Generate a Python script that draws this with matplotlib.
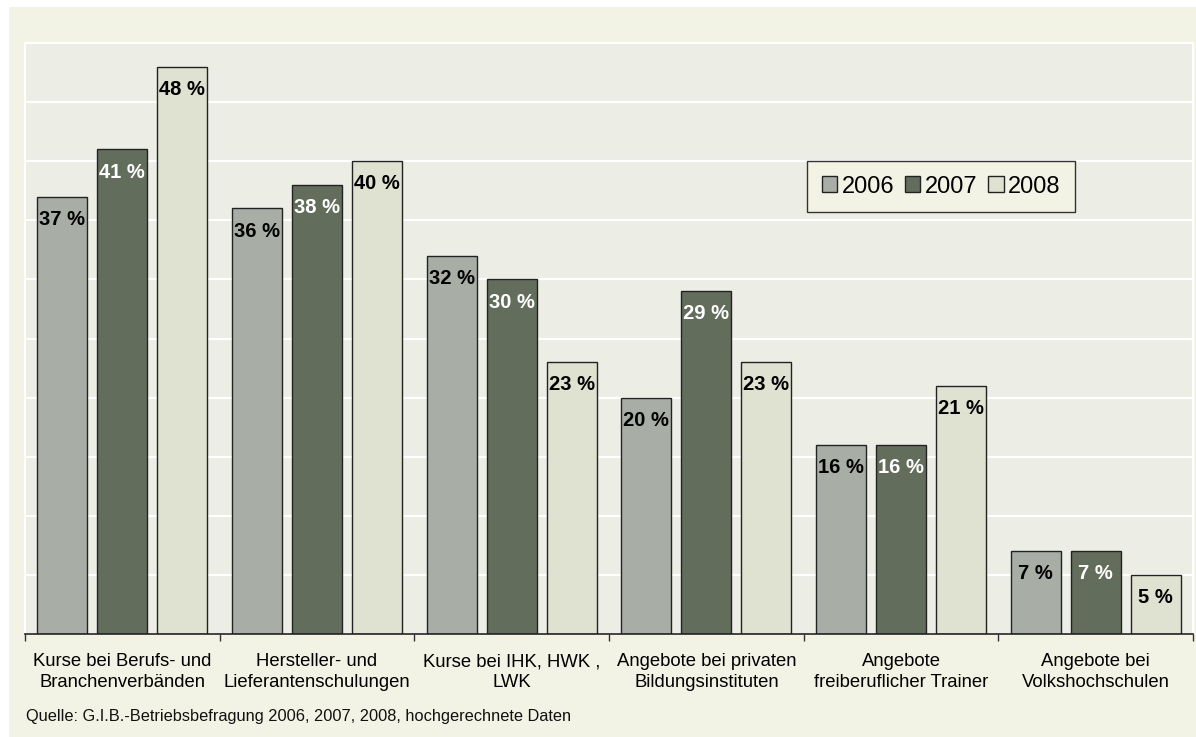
import numpy as np
import matplotlib.pyplot as plt
from matplotlib.patches import Rectangle

plt.rcParams['font.family'] = ['Liberation Sans', 'DejaVu Sans']

categories = ['Kurse bei Berufs- und\nBranchenverbänden',
              'Hersteller- und\nLieferantenschulungen',
              'Kurse bei IHK, HWK ,\nLWK',
              'Angebote bei privaten\nBildungsinstituten',
              'Angebote\nfreiberuflicher Trainer',
              'Angebote bei\nVolkshochschulen']
years = ['2006', '2007', '2008']
v2006 = [37, 36, 32, 20, 16, 7]
v2007 = [41, 38, 30, 29, 16, 7]
v2008 = [48, 40, 23, 23, 21, 5]
series = [v2006, v2007, v2008]

colors = ['#a8aea6', '#626d5c', '#dfe1d1']
text_colors = ['black', 'white', 'black']
cream = '#f3f3e5'
plot_bg = '#eceee6'

W, H = 1196, 737
fig = plt.figure(figsize=(W / 100, H / 100), dpi=100)
fig.patch.set_facecolor('white')
fig.patches.append(Rectangle((9 / W, 0), 1 - 9 / W, 1 - 7 / H,
                             transform=fig.transFigure, facecolor=cream,
                             edgecolor='none', zorder=-10))

ax = fig.add_axes([25 / W, (H - 634) / H, (1193 - 25) / W, (634 - 43) / H])
ax.set_facecolor(plot_bg)
ax.patch.set_edgecolor('white')
ax.patch.set_linewidth(1.5)

n = len(categories)
centers = np.arange(n) + 0.5
step = 0.308
width = 0.257

for k, vals in enumerate(series):
    xs = centers + (k - 1) * step
    bars = ax.bar(xs, vals, width=width, color=colors[k], edgecolor='#222222',
                  linewidth=1.0, label=years[k], zorder=3)
    for b, v in zip(bars, vals):
        ax.annotate(f'{v} %', (b.get_x() + b.get_width() / 2, v),
                    xytext=(0, -9.5), textcoords='offset points',
                    ha='center', va='top', fontsize=14.5, fontweight='bold',
                    color=text_colors[k], zorder=4)

ax.set_xlim(0, n)
ax.set_ylim(0, 50)
ax.set_yticks(np.arange(5, 50, 5))
ax.yaxis.grid(True, color='white', linewidth=1.5, zorder=0)
ax.tick_params(axis='y', left=False, labelleft=False)

# boundary ticks without labels, category names on minor ticks
ax.set_xticks(np.arange(n + 1))
ax.set_xticklabels([])
ax.tick_params(axis='x', which='major', length=5, width=1, color='#333333',
               direction='out')
ax.set_xticks(centers, minor=True)
ax.set_xticklabels(categories, minor=True, fontsize=13.3, linespacing=1.3)
ax.tick_params(axis='x', which='minor', length=0, pad=14)

for s in ['top', 'right', 'left']:
    ax.spines[s].set_visible(False)
ax.spines['bottom'].set_color('#222222')
ax.spines['bottom'].set_linewidth(1.2)
ax.spines['bottom'].set_zorder(5)

leg = ax.legend(loc='upper left', bbox_to_anchor=(807 / W, 1 - 161 / H),
                bbox_transform=fig.transFigure, ncol=3, fontsize=17,
                frameon=True, fancybox=False, handlelength=0.65,
                handleheight=0.65, handletextpad=0.2, columnspacing=0.45,
                borderpad=0.62, borderaxespad=0)
leg.get_frame().set_facecolor(cream)
leg.get_frame().set_edgecolor('#333333')
leg.get_frame().set_linewidth(1.0)
leg.get_frame().set_alpha(1)

fig.text(26 / W, 1 - 717 / H,
         'Quelle: G.I.B.-Betriebsbefragung 2006, 2007, 2008, hochgerechnete Daten',
         fontsize=11.8, va='center', ha='left', color='#111111')

fig.savefig('out.png', dpi=100, facecolor=fig.get_facecolor())
